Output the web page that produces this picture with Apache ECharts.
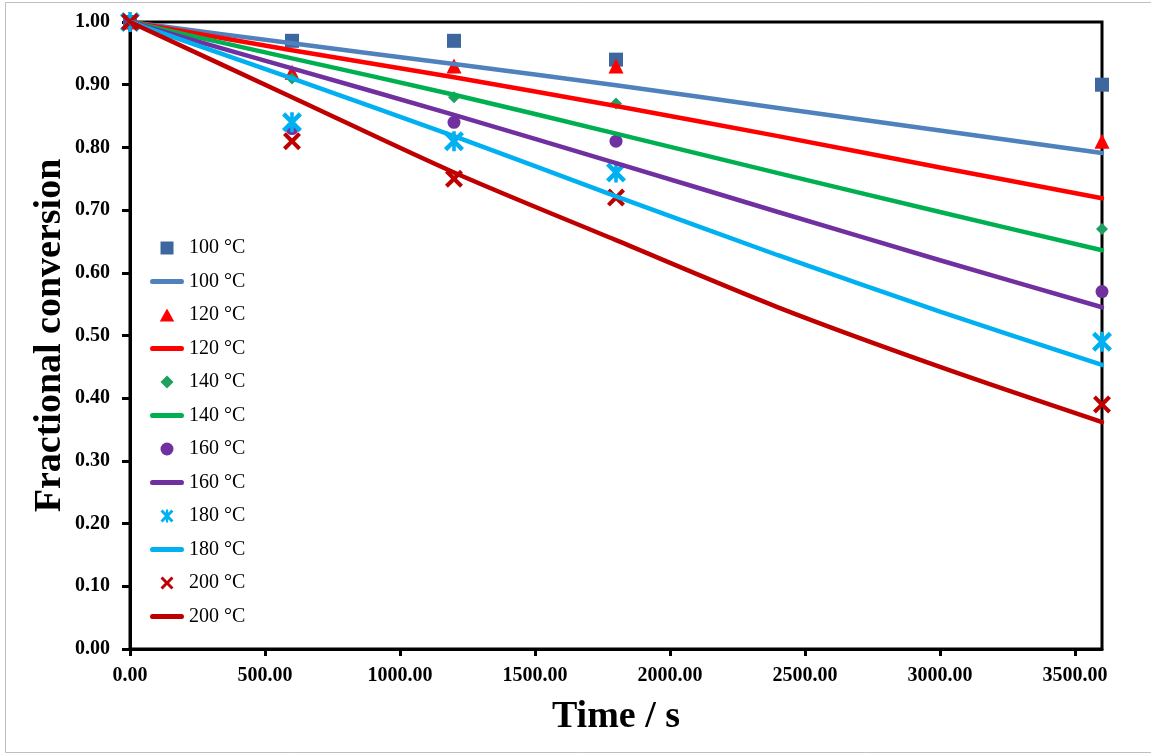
<!DOCTYPE html>
<html>
<head>
<meta charset="utf-8">
<title>Fractional conversion vs time</title>
<script src="https://cdn.jsdelivr.net/npm/echarts@6/dist/echarts.min.js"></script>
<style>
  html, body { margin: 0; padding: 0; background: #fff; }
  #main { width: 1151px; height: 755px; }
</style>
</head>
<body>
<div id="main"></div>
<script>
// measured points
var timesMeasured = [0, 600, 1200, 1800, 3600];
var meas100 = [1.00, 0.97, 0.97, 0.94, 0.90];
var meas120 = [1.00, 0.92, 0.93, 0.93, 0.81];
var meas140 = [1.00, 0.91, 0.88, 0.87, 0.67];
var meas160 = [1.00, 0.83, 0.84, 0.81, 0.57];
var meas180 = [1.00, 0.84, 0.81, 0.76, 0.49];
var meas200 = [1.00, 0.81, 0.75, 0.72, 0.39];

// fitted curves
var timesFit = [0, 600, 1200, 1800, 2400, 3000, 3600];
var fit100 = [1.00, 0.966, 0.933, 0.899, 0.863, 0.827, 0.791];
var fit120 = [1.00, 0.955, 0.912, 0.866, 0.818, 0.768, 0.719];
var fit140 = [1.00, 0.942, 0.884, 0.822, 0.759, 0.697, 0.636];
var fit160 = [1.00, 0.926, 0.852, 0.775, 0.697, 0.620, 0.545];
var fit180 = [1.00, 0.910, 0.818, 0.722, 0.628, 0.538, 0.453];
var fit200 = [1.00, 0.880, 0.760, 0.652, 0.545, 0.450, 0.362];

var xTicks = [0, 500, 1000, 1500, 2000, 2500, 3000, 3500];

var font = '"Liberation Serif", "Times New Roman", serif';

// marker shapes (paths keep their aspect in the legend)
var squarePath = 'path://M0,0 L10,0 L10,10 L0,10 Z';
var trianglePath = 'path://M5,0 L10,9 L0,9 Z';
var diamondPath = 'path://M5,0 L10,5 L5,10 L0,5 Z';
var crossPath = 'path://M0,1.6 L1.6,0 L5,3.4 L8.4,0 L10,1.6 L6.6,5 L10,8.4 L8.4,10 L5,6.6 L1.6,10 L0,8.4 L3.4,5 Z';
var starPath = 'path://M0,1.6 L1.6,0 L5,3.4 L8.4,0 L10,1.6 L6.6,5 L10,8.4 L8.4,10 L5,6.6 L1.6,10 L0,8.4 L3.4,5 Z M4.1,0 L5.9,0 L5.9,10 L4.1,10 Z';
var linePath = 'path://M2,0 L32,0 Q34,0 34,2.5 Q34,5 32,5 L2,5 Q0,5 0,2.5 Q0,0 2,0 Z';

function pairs(xs, ys) {
  return xs.map(function (x, i) { return [x, ys[i]]; });
}

function points(name, ys, symbol, size, color) {
  return {
    name: name,
    type: 'scatter',
    data: pairs(timesMeasured, ys),
    symbol: symbol,
    symbolSize: size,
    clip: false,
    itemStyle: { color: color, opacity: 1 }
  };
}

function curve(name, ys, color) {
  return {
    name: name + ' ',
    type: 'line',
    data: pairs(timesFit, ys),
    smooth: 0.3,
    symbol: 'none',
    lineStyle: { color: color, width: 4.5, cap: 'round' },
    itemStyle: { color: color }
  };
}

var series = [
  points('100 °C', meas100, squarePath, 14, '#3E67A0'),
  curve('100 °C', fit100, '#4F81BD'),
  points('120 °C', meas120, trianglePath, 15, '#FF0000'),
  curve('120 °C', fit120, '#FF0000'),
  points('140 °C', meas140, diamondPath, 12, '#1FA060'),
  curve('140 °C', fit140, '#00B050'),
  points('160 °C', meas160, 'circle', 13, '#7030A0'),
  curve('160 °C', fit160, '#7030A0'),
  points('180 °C', meas180, starPath, 20, '#00B0F0'),
  curve('180 °C', fit180, '#00B0F0'),
  points('200 °C', meas200, crossPath, 18, '#C00000'),
  curve('200 °C', fit200, '#C00000')
];

var legendItems = series.map(function (s) {
  return { name: s.name, icon: s.type === 'line' ? linePath : s.symbol };
});

var chart = echarts.init(document.getElementById('main'));
chart.setOption({
  animation: false,
  backgroundColor: '#fff',
  graphic: [{
    type: 'rect',
    shape: { x: 5.5, y: 2.5, width: 1150, height: 750 },
    style: { fill: 'none', stroke: '#BFBFBF', lineWidth: 1 },
    silent: true
  }],
  grid: {
    left: 130, top: 22, right: 49, bottom: 106,
    show: true, borderColor: '#000', borderWidth: 3
  },
  legend: {
    orient: 'vertical',
    left: 145, top: 233,
    itemWidth: 34, itemHeight: 13, itemGap: 13.5,
    symbolKeepAspect: true,
    formatter: function (n) { return n.trim(); },
    textStyle: { fontFamily: font, fontSize: 20, lineHeight: 20, color: '#000' },
    data: legendItems
  },
  xAxis: {
    type: 'value',
    min: 0, max: 3600,
    interval: 500,
    name: 'Time / s',
    nameLocation: 'middle',
    nameGap: 49,
    nameMoveOverlap: false,
    nameTextStyle: { fontFamily: font, fontSize: 38, fontWeight: 'bold', color: '#000' },
    splitLine: { show: false },
    axisLine: { lineStyle: { color: '#000', width: 3 } },
    axisTick: { customValues: xTicks, length: 7, lineStyle: { color: '#000', width: 3 } },
    axisLabel: {
      customValues: xTicks,
      margin: 17,
      formatter: function (v) { return v.toFixed(2); },
      fontFamily: font, fontSize: 20, fontWeight: 'bold', color: '#000'
    }
  },
  yAxis: {
    type: 'value',
    min: 0, max: 1, interval: 0.1,
    name: 'Fractional conversion',
    nameLocation: 'middle',
    nameGap: 61,
    nameMoveOverlap: false,
    nameTextStyle: { fontFamily: font, fontSize: 38, fontWeight: 'bold', color: '#000' },
    splitLine: { show: false },
    axisLine: { lineStyle: { color: '#000', width: 3 } },
    axisTick: { length: 8, lineStyle: { color: '#000', width: 3 } },
    axisLabel: {
      margin: 20,
      formatter: function (v) { return v.toFixed(2); },
      fontFamily: font, fontSize: 20, fontWeight: 'bold', color: '#000'
    }
  },
  series: series
});
</script>
</body>
</html>
